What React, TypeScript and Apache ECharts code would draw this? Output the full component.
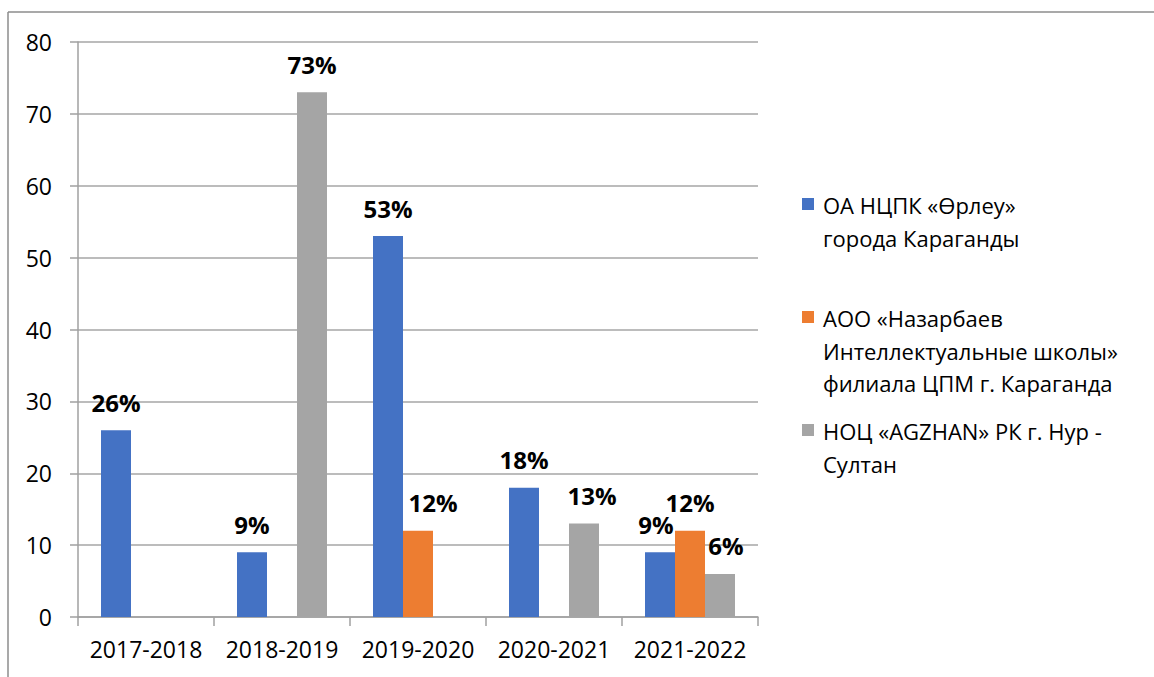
import React, { useEffect, useRef } from "react";
import * as echarts from "echarts";

const categories = ["2017-2018", "2018-2019", "2019-2020", "2020-2021", "2021-2022"];
const seriesNames = [
  "ОА НЦПК «Өрлеу»\nгорода Караганды",
  "АОО «Назарбаев\nИнтеллектуальные школы»\nфилиала ЦПМ г. Караганда",
  "НОЦ «AGZHAN» РК г. Нур -\nСултан",
];
const orleuValues = [26, 9, 53, 18, 9];
const nazarbayevValues = [null, null, 12, null, 12];
const agzhanValues = [null, 73, null, 13, 6];
const colors = ["#4472C4", "#ED7D31", "#A5A5A5"];
const yTicks = { min: 0, max: 80, interval: 10 };

// small horizontal nudges of some data labels, as in the reference
const labelShift: Record<string, number> = { "1-2": 15, "2-3": 8, "0-4": -4, "2-4": 6 };

export default function App() {
  const ref = useRef<HTMLDivElement>(null);
  useEffect(() => {
    if (!ref.current) return;
    const chart = echarts.init(ref.current, null, { renderer: "svg" });
    const allValues = [orleuValues, nazarbayevValues, agzhanValues];
    const font = "'Open Sans', sans-serif";
    const series = allValues.map((vals, si) => ({
      name: seriesNames[si],
      type: "bar",
      barWidth: 30,
      barGap: "0%",
      itemStyle: { color: colors[si] },
      data: vals.map((v, ci) => {
        const shift = labelShift[`${si}-${ci}`] || 0;
        return v === null
          ? null
          : { value: v, label: { offset: [shift, 0] } };
      }),
      label: {
        show: true,
        position: "top",
        distance: 16,
        formatter: (p: any) => `${p.value}%`,
        fontFamily: font,
        fontWeight: "bold",
        fontSize: 24,
        color: "#000",
      },
    }));

    const legendGraphics: any[] = [];
    seriesNames.forEach((name, i) => {
      const top = 189 + i * 113;
      legendGraphics.push({
        type: "rect",
        shape: { x: 802, y: top + 9, width: 12, height: 12 },
        style: { fill: colors[i] },
      });
      legendGraphics.push({
        type: "text",
        x: 823,
        y: top,
        style: {
          text: name,
          font: `22px ${font}`,
          fill: "#000",
          lineHeight: 32.5,
          verticalAlign: "top",
        },
      });
    });

    chart.setOption({
      animation: false,
      grid: { left: 78, right: 396, top: 42, bottom: 60 },
      xAxis: {
        type: "category",
        data: categories,
        axisLine: { show: true, lineStyle: { color: "#a0a0a0", width: 1.5 } },
        axisTick: { show: true, length: 9, lineStyle: { color: "#a0a0a0", width: 1.5 } },
        axisLabel: { interval: 0, fontFamily: font, fontSize: 23, color: "#000", margin: 20 },
      },
      yAxis: {
        type: "value",
        min: yTicks.min,
        max: yTicks.max,
        interval: yTicks.interval,
        axisLine: { show: true, lineStyle: { color: "#a0a0a0", width: 1.5 } },
        axisTick: { show: true, length: 8, lineStyle: { color: "#a0a0a0", width: 1.5 } },
        splitLine: { show: true, lineStyle: { color: "#a6a6a6", width: 1.5 } },
        axisLabel: { fontFamily: font, fontSize: 23, color: "#000", margin: 26 },
      },
      series,
      graphic: [
        {
          type: "line",
          shape: { x1: 8, y1: 12, x2: 1154, y2: 12 },
          style: { stroke: "#8c8c8c", lineWidth: 1.5 },
        },
        {
          type: "line",
          shape: { x1: 8, y1: 12, x2: 8, y2: 677 },
          style: { stroke: "#8c8c8c", lineWidth: 1.5 },
        },
        ...legendGraphics,
      ],
    });
    return () => chart.dispose();
  }, []);
  return (
    <div
      ref={ref}
      style={{ position: "fixed", left: 0, top: 0, width: 1154, height: 677, background: "#fff" }}
    />
  );
}
